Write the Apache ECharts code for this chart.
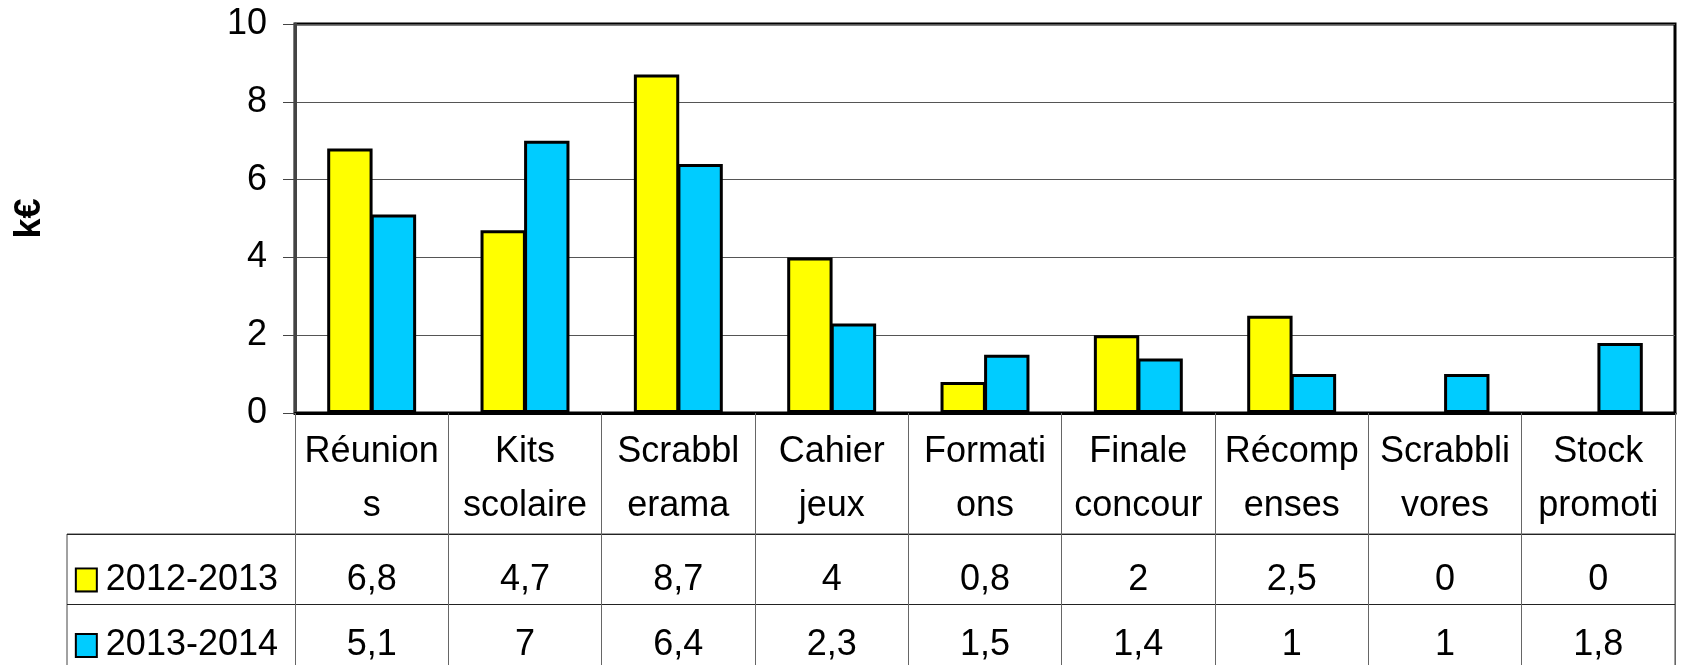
<!DOCTYPE html>
<html>
<head>
<meta charset="utf-8">
<script src="https://cdn.jsdelivr.net/npm/echarts@6/dist/echarts.min.js"></script>
<style>
  html, body { margin: 0; padding: 0; background: #fff; }
  #chart { width: 1683px; height: 665px; }
</style>
</head>
<body>
<div id="chart"></div>
<script>
// labels are cut in the original table, kept as shown
const categories = ['Réunion\ns', 'Kits\nscolaire', 'Scrabbl\nerama', 'Cahier\njeux', 'Formati\nons',
  'Finale\nconcour', 'Récomp\nenses', 'Scrabbli\nvores', 'Stock\npromoti']
const seriesNames = ['2012-2013', '2013-2014']
const values2012 = [6.8, 4.7, 8.7, 4, 0.8, 2, 2.5, 0, 0]
const values2013 = [5.1, 7, 6.4, 2.3, 1.5, 1.4, 1, 1, 1.8]
const colors = ['#FFFF00', '#00CCFF']

const font = '"Liberation Sans", Arial, sans-serif'
const allValues = [values2012, values2013]

// table cells: [column, row, value]
let cells = []
allValues.forEach((row, r) => {
  row.forEach((v, c) => cells.push([c, r, v]))
})

// a zero bar is not drawn at all in the original
const barData = (arr) => arr.map(v => (v === 0 ? null : v))

const chart = echarts.init(document.getElementById('chart'))

const option = {
  animation: false,
  backgroundColor: '#fff',
  textStyle: { fontFamily: font },
  grid: [
    { left: 295, right: 8, top: 24, height: 389, outerBoundsMode: 'none', show: true, borderColor: '#000', borderWidth: 3 },
    { left: 67, right: 8, top: 534, bottom: -10, outerBoundsMode: 'none', show: true, borderColor: '#444', borderWidth: 1 },
    { left: 295, right: 8, top: 534, bottom: -10, outerBoundsMode: 'none', show: false }
  ],
  xAxis: [
    {
      type: 'category',
      gridIndex: 0,
      data: categories,
      axisLine: { lineStyle: { color: '#000', width: 3 } },
      axisTick: { show: true, interval: 0, length: 121, lineStyle: { color: '#666', width: 1 } },
      axisLabel: {
        interval: 0, margin: 12, color: '#000', fontSize: 36, lineHeight: 54, fontFamily: font
      }
    },
    {
      type: 'value', gridIndex: 1, show: false
    },
    {
      type: 'category',
      gridIndex: 2,
      data: categories,
      axisLine: { show: false },
      axisTick: { show: false },
      axisLabel: { show: false },
      splitLine: { show: true, interval: 0, lineStyle: { color: '#666', width: 1 } }
    }
  ],
  yAxis: [
    {
      type: 'value',
      gridIndex: 0,
      min: 0,
      max: 10,
      interval: 2,
      name: 'k€',
      nameLocation: 'middle',
      nameGap: 247,
      nameTextStyle: { fontSize: 36, fontWeight: 'bold', color: '#000', fontFamily: font },
      axisLine: { show: true, lineStyle: { color: '#444', width: 3 } },
      axisTick: { show: true, length: 12, lineStyle: { color: '#444', width: 1 } },
      axisLabel: { margin: 28, color: '#000', fontSize: 36, fontFamily: font },
      splitLine: { show: true, lineStyle: { color: '#555', width: 1 } }
    },
    {
      type: 'category',
      gridIndex: 1,
      inverse: true,
      data: seriesNames,
      axisLine: { show: false },
      axisTick: { show: false },
      axisLabel: { show: false },
      splitLine: { show: true, interval: 0, lineStyle: { color: '#222', width: 1 } }
    },
    {
      // row axis of the table, text sits a bit low in each row like the original
      type: 'value',
      gridIndex: 2,
      inverse: true,
      min: -0.7,
      max: 1.45,
      axisLine: { show: true, lineStyle: { color: '#666', width: 1 } },
      axisTick: { show: false },
      splitLine: { show: false },
      axisLabel: {
        margin: 17,
        customValues: [0, 1],
        formatter: function (val) {
          const idx = Math.round(val)
          return '{b' + idx + '|} ' + seriesNames[idx]
        },
        color: '#000',
        fontSize: 36,
        fontFamily: font,
        rich: {
          b0: { width: 19, height: 21, backgroundColor: colors[0], borderColor: '#000', borderWidth: 2 },
          b1: { width: 19, height: 21, backgroundColor: colors[1], borderColor: '#000', borderWidth: 2 }
        }
      }
    }
  ],
  series: [
    {
      name: seriesNames[0],
      type: 'bar',
      xAxisIndex: 0,
      yAxisIndex: 0,
      data: barData(values2012),
      barGap: '-4%',
      barCategoryGap: '42%',
      itemStyle: { color: colors[0], borderColor: '#000', borderWidth: 3 }
    },
    {
      name: seriesNames[1],
      type: 'bar',
      xAxisIndex: 0,
      yAxisIndex: 0,
      data: barData(values2013),
      barGap: '-4%',
      barCategoryGap: '42%',
      itemStyle: { color: colors[1], borderColor: '#000', borderWidth: 3 }
    },
    {
      type: 'scatter',
      xAxisIndex: 2,
      yAxisIndex: 2,
      symbolSize: 1,
      itemStyle: { color: '#fff', opacity: 1 },
      data: cells,
      label: {
        show: true,
        position: 'inside',
        color: '#000',
        opacity: 1,
        fontSize: 36,
        fontFamily: font,
        formatter: function (p) {
          return String(p.value[2]).replace('.', ',')
        }
      }
    }
  ]
}

chart.setOption(option)
</script>
</body>
</html>
